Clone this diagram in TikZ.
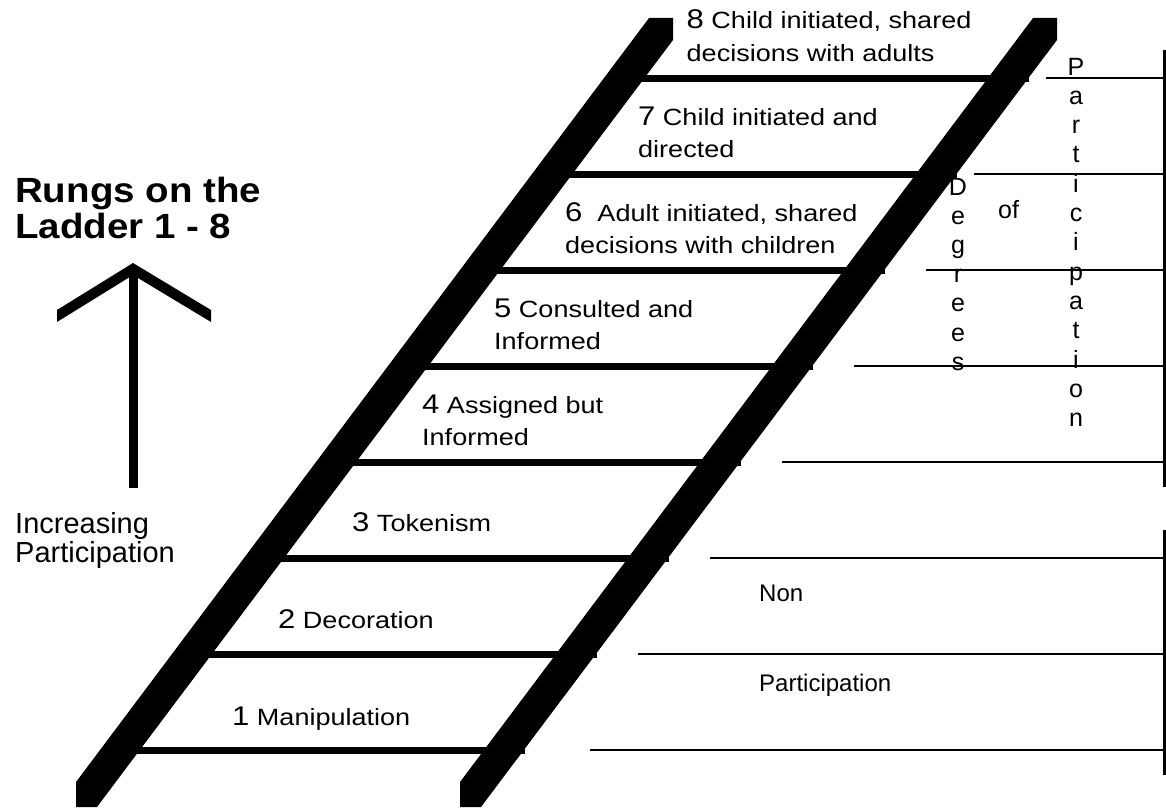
\documentclass[tikz,border=0pt]{standalone}
\usepackage{fontspec}
\setmainfont{Liberation Sans}
\newfontfamily\ladfont[FakeStretch=1.15]{Liberation Sans}
\newfontfamily\ttlfont[FakeStretch=1.1]{Liberation Sans}
\begin{document}
\begin{tikzpicture}[x=1pt,y=-1pt,
  lad/.style={anchor=base west,inner sep=0pt,font=\ladfont\fontsize{23.5}{27}\selectfont},
  vlet/.style={anchor=base,inner sep=0pt,font=\fontsize{25}{29}\selectfont},
  side/.style={anchor=base west,inner sep=0pt,font=\fontsize{24}{28}\selectfont},
  rung/.style={line width=7pt},
  thin/.style={line width=2.5pt},
  bar/.style={line width=3pt}]
\useasboundingbox (0,0) rectangle (1166,808);
\newcommand\dg[1]{{\fontsize{27}{28}\selectfont #1}}
% rails
\fill (76,807) -- (97,807) -- (673,40) -- (673,18) -- (649,18) -- (76,782) -- cycle;
\fill (460,807) -- (481,807) -- (1057,40) -- (1057,18) -- (1033,18) -- (460,782) -- cycle;
% rungs
\foreach \yy/\xx in {750/139.81,654/211.90,558/283.99,462/356.09,366/428.18,270/500.28,174/572.37,78/644.46}
  \draw[rung] (\xx-4,\yy) -- (\xx+385,\yy);
% right frame
\foreach \yy/\xx in {78/1046,174/974,270/926,366/854,462/782,558/710,654/638,750/590}
  \draw[thin] (\xx,\yy) -- (1164,\yy);
\coordinate (t1) at (1164,50); \coordinate (t2) at (1164,487);
\coordinate (b1) at (1164,530); \coordinate (b2) at (1164,775);
\draw[bar] (t1) -- (t2);
\draw[bar] (b1) -- (b2);
% ladder texts
\node[lad] (r8a) at (686.5,29) {\dg{8} Child initiated, shared};
\node[lad] (r8b) at (686.5,61) {decisions with adults};
\node[lad] (r7a) at (638,125) {\dg{7} Child initiated and};
\node[lad] (r7b) at (638,157) {directed};
\node[lad] (r6a) at (565,221) {\dg{6}\ \ Adult initiated, shared};
\node[lad] (r6b) at (565,253) {decisions with children};
\node[lad] (r5a) at (494,317) {\dg{5} Consulted and};
\node[lad] (r5b) at (494,349) {Informed};
\node[lad] (r4a) at (422,413) {\dg{4} Assigned but};
\node[lad] (r4b) at (422,445) {Informed};
\node[lad] (r3) at (352,531) {\dg{3} Tokenism};
\node[lad] (r2) at (278,628) {\dg{2} Decoration};
\node[lad] (r1) at (232,725) {\dg{1} Manipulation};
% title
\node[anchor=base west,inner sep=0pt,font=\ttlfont\bfseries\fontsize{35}{36}\selectfont] (ttl1) at (15,202) {Rungs on the};
\node[anchor=base west,inner sep=0pt,font=\ttlfont\bfseries\fontsize{35}{36}\selectfont] (ttl2) at (15,238) {Ladder 1 - 8};
% arrow
\fill (57,310) -- (133,263) -- (211,310) -- (211,322) -- (133,275) -- (57,322) -- cycle;
\fill (128.5,270) rectangle (137.5,488);
\node[anchor=base west,inner sep=0pt,font=\fontsize{29}{30}\selectfont] (inc1) at (15,533) {Increasing};
\node[anchor=base west,inner sep=0pt,font=\fontsize{29}{30}\selectfont] (inc2) at (15,562) {Participation};
% vertical words
\foreach \c [count=\i from 0] in {D,e,g,r,e,e,s}
  \node[vlet] (dg\i) at (958,195+29.2*\i) {\c};
\node[side,font=\fontsize{25}{29}\selectfont] (of) at (998,218) {of};
\foreach \c [count=\i from 0] in {P,a,r,t,i,c,i,p,a,t,i,o,n}
  \node[vlet] (pt\i) at (1076,75+29.3*\i) {\c};
% non participation
\node[side] (non) at (759,601) {Non};
\node[side] (npart) at (759,691) {Participation};
\end{tikzpicture}
\end{document}
